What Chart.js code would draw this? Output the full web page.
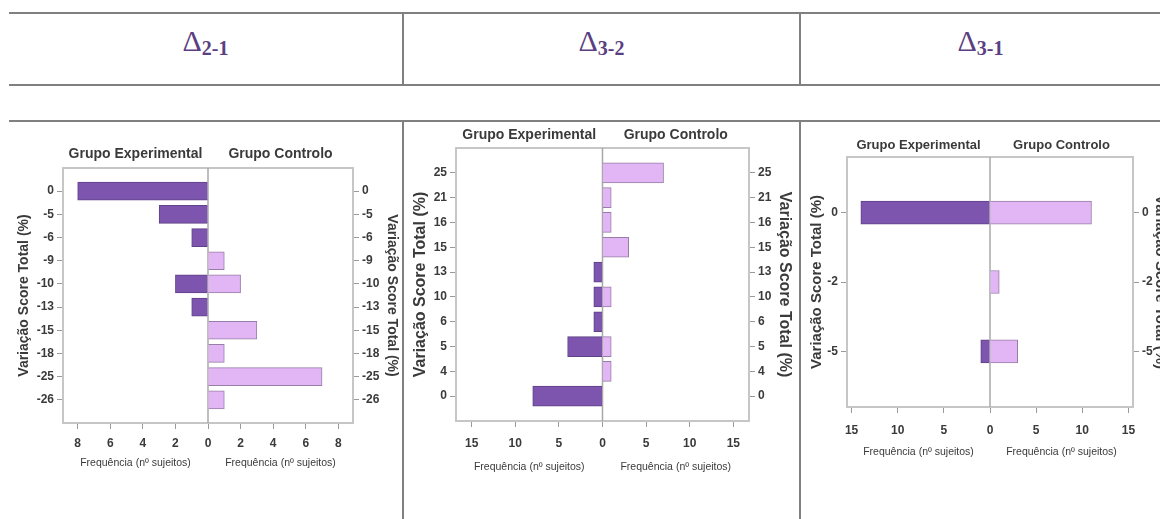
<!DOCTYPE html>
<html>
<head>
<meta charset="utf-8">
<script src="https://cdn.jsdelivr.net/npm/chart.js@4.4.1/dist/chart.umd.min.js"></script>
<style>
  body { margin: 0; background: #fff; }
  #page { position: relative; width: 1160px; height: 519px; overflow: hidden; background: #fff; }
  .hline { position: absolute; left: 9px; right: 0; height: 2px; background: #808080; }
  .vline { position: absolute; width: 2px; background: #808080; }
  .head { position: absolute; top: 26px; line-height: 30px; text-align: center;
          font-family: "Liberation Serif", "Times New Roman", serif; font-size: 30px; color: #5b3f82; }
  .head span { font-size: 20px; font-weight: bold; vertical-align: -4px; }
  canvas { position: absolute; }
</style>
</head>
<body>
<div id="page">
  <div class="hline" style="top:12px"></div>
  <div class="hline" style="top:84px"></div>
  <div class="hline" style="top:120px"></div>
  <div class="vline" style="left:402px; top:12px; height:73px"></div>
  <div class="vline" style="left:799px; top:12px; height:73px"></div>
  <div class="vline" style="left:402px; top:120px; height:400px"></div>
  <div class="vline" style="left:799px; top:120px; height:400px"></div>

  <div class="head" style="left:9px; width:393px">&Delta;<span>2-1</span></div>
  <div class="head" style="left:404px; width:395px">&Delta;<span>3-2</span></div>
  <div class="head" style="left:801px; width:359px">&Delta;<span>3-1</span></div>

  <canvas id="c21" width="400" height="394" style="left:0px; top:125px"></canvas>
  <canvas id="c32" width="393" height="394" style="left:405px; top:125px"></canvas>
  <canvas id="c31" width="371" height="394" style="left:802px; top:125px"></canvas>
</div>

<script>
// data (top row to bottom row)
const groupNames = ['Grupo Experimental', 'Grupo Controlo'];
const yTitle = 'Variação Score Total (%)';
const xTitle = 'Frequência (nº sujeitos)';

// delta 2-1
const cats21 = ['0', '-5', '-6', '-9', '-10', '-13', '-15', '-18', '-25', '-26'];
const exp21 = [8, 3, 1, 0, 2, 1, 0, 0, 0, 0];
const ctrl21 = [0, 0, 0, 1, 2, 0, 3, 1, 7, 1];
const xTicks21 = [-8, -6, -4, -2, 0, 2, 4, 6, 8];

// delta 3-2
const cats32 = ['25', '21', '16', '15', '13', '10', '6', '5', '4', '0'];
const exp32 = [0, 0, 0, 0, 1, 1, 1, 4, 0, 8];
const ctrl32 = [7, 1, 1, 3, 0, 1, 0, 1, 1, 0];
const xTicks32 = [-15, -10, -5, 0, 5, 10, 15];

// delta 3-1
const cats31 = ['0', '-2', '-5'];
const exp31 = [14, 0, 1];
const ctrl31 = [11, 1, 3];
const xTicks31 = [-15, -10, -5, 0, 5, 10, 15];

const FONT = '"Liberation Sans", Arial, sans-serif';
const TXT = '#3a3a3a';

// frame, centre line, group names and the two x titles
const pyramidDecor = {
  id: 'pyramidDecor',
  beforeDatasetsDraw(chart) {
    const {ctx, chartArea: a} = chart;
    const mid = chart.scales.x.getPixelForValue(0);
    ctx.save();
    ctx.strokeStyle = '#c6c6c6';
    ctx.lineWidth = 2;
    ctx.strokeRect(a.left, a.top, a.right - a.left, a.bottom - a.top);
    ctx.strokeStyle = '#a8a8a8';
    ctx.lineWidth = 1.5;
    ctx.beginPath();
    ctx.moveTo(mid, a.top);
    ctx.lineTo(mid, a.bottom);
    ctx.stroke();
    ctx.restore();
  },
  afterDraw(chart, args, opts) {
    const {ctx, chartArea: a} = chart;
    const mid = chart.scales.x.getPixelForValue(0);
    const lx = (a.left + mid) / 2, rx = (mid + a.right) / 2;
    ctx.save();
    ctx.fillStyle = TXT;
    ctx.textAlign = 'center';
    ctx.textBaseline = 'middle';
    ctx.font = 'bold ' + opts.groupSize + 'px ' + FONT;
    ctx.fillText(groupNames[0], lx, a.top - opts.groupGap);
    ctx.fillText(groupNames[1], rx, a.top - opts.groupGap);
    ctx.font = '10.5px ' + FONT;
    ctx.fillText(xTitle, lx, a.bottom + opts.titleGap);
    ctx.fillText(xTitle, rx, a.bottom + opts.titleGap);
    ctx.restore();
  }
};

function drawPyramid(id, cats, exp, ctrl, xTicks, look) {
  const ctx = document.getElementById(id).getContext('2d');

  const yAxis = (pos, width, titlePad) => ({
    type: 'linear',
    position: pos,
    reverse: true,
    offset: false,
    min: -look.yPad,
    max: cats.length - 1 + look.yPad,
    afterBuildTicks: s => { s.ticks = cats.map((c, i) => ({value: i})); },
    afterFit: s => { s.width = width; },
    ticks: {
      autoSkip: false,
      callback: v => cats[v],
      color: TXT,
      padding: 3,
      font: {family: FONT, size: 12, weight: 'bold'}
    },
    grid: {drawOnChartArea: false, offset: false, tickLength: 6, color: '#9a9a9a'},
    border: {display: false},
    title: {
      display: true,
      text: yTitle,
      color: TXT,
      padding: {top: titlePad, bottom: 0},
      font: {family: FONT, size: look.titleSize, weight: 'bold'}
    }
  });

  new Chart(ctx, {
    type: 'bar',
    data: {
      datasets: [{
        label: groupNames[0],
        data: exp.map((v, i) => ({x: -v, y: i})).filter(d => d.x !== 0),
        backgroundColor: '#7d55ae',
        borderColor: '#5f4288',
        borderWidth: 1,
        barThickness: look.bar,
        grouped: false
      }, {
        label: groupNames[1],
        data: ctrl.map((v, i) => ({x: v, y: i})).filter(d => d.x !== 0),
        backgroundColor: '#e2b6f4',
        borderColor: '#977ea8',
        borderWidth: 1,
        barThickness: look.bar,
        grouped: false
      }]
    },
    options: {
      indexAxis: 'y',
      responsive: false,
      animation: false,
      devicePixelRatio: 1,
      layout: {padding: {top: look.top, bottom: look.bottom, left: 0, right: 0}},
      scales: {
        x: {
          type: 'linear',
          min: -look.xMax,
          max: look.xMax,
          afterBuildTicks: s => { s.ticks = xTicks.map(v => ({value: v})); },
          afterFit: s => { s.height = 30; },
          ticks: {
            autoSkip: false,
            maxRotation: 0,
            callback: v => Math.abs(v),
            color: TXT,
            padding: look.xPad,
            font: {family: FONT, size: 12, weight: 'bold'}
          },
          grid: {drawOnChartArea: false, tickLength: 6, color: '#9a9a9a'},
          border: {display: false}
        },
        y: yAxis('left', look.leftW, look.leftTitlePad),
        y2: yAxis('right', look.rightW, look.rightTitlePad)
      },
      plugins: {
        legend: {display: false},
        tooltip: {enabled: false},
        pyramidDecor: {groupGap: look.groupGap, groupSize: look.groupSize, titleGap: look.titleGap}
      }
    },
    plugins: [pyramidDecor]
  });
}

drawPyramid('c21', cats21, exp21, ctrl21, xTicks21, {
  xMax: 8.9, yPad: 1, bar: 18, top: 43, bottom: 66, leftW: 63, rightW: 47,
  leftTitlePad: 16, rightTitlePad: 0, titleSize: 14, xPad: 7,
  groupGap: 14, groupSize: 14, titleGap: 40
});
drawPyramid('c32', cats32, exp32, ctrl32, xTicks32, {
  xMax: 16.8, yPad: 1, bar: 20, top: 23, bottom: 68, leftW: 51, rightW: 49,
  leftTitlePad: 6, rightTitlePad: 4, titleSize: 16, xPad: 9,
  groupGap: 13, groupSize: 14, titleGap: 46
});
drawPyramid('c31', cats31, exp31, ctrl31, xTicks31, {
  xMax: 15.5, yPad: 0.8, bar: 23, top: 32, bottom: 82, leftW: 45, rightW: 40,
  leftTitlePad: 6, rightTitlePad: 4, titleSize: 15, xPad: 10,
  groupGap: 12, groupSize: 13, titleGap: 45
});
</script>
</body>
</html>
